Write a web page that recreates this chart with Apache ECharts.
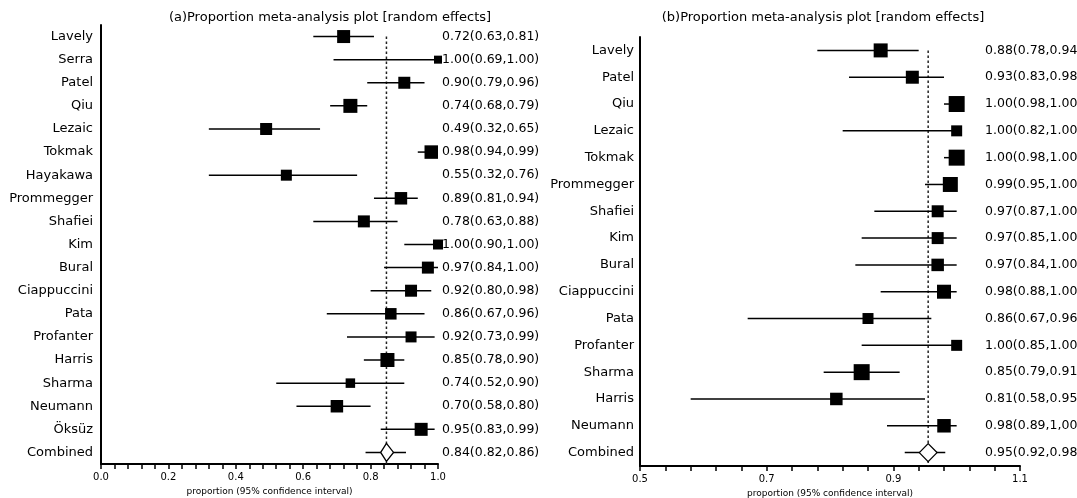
<!DOCTYPE html>
<html>
<head>
<meta charset="utf-8">
<script src="https://cdn.jsdelivr.net/npm/echarts@6/dist/echarts.min.js"></script>
<style>html,body{margin:0;padding:0;background:#fff}#c{width:1077px;height:498px}</style>
</head>
<body>
<div id="c"></div>
<script>
// ---------- Panel (a) data ----------
const namesA = ['Lavely','Serra','Patel','Qiu','Lezaic','Tokmak','Hayakawa','Prommegger','Shafiei','Kim','Bural','Ciappuccini','Pata','Profanter','Harris','Sharma','Neumann','Öksüz'];
const estA  = [0.72,1.00,0.90,0.74,0.49,0.98,0.55,0.89,0.78,1.00,0.97,0.92,0.86,0.92,0.85,0.74,0.70,0.95];
const lowA  = [0.63,0.69,0.79,0.68,0.32,0.94,0.32,0.81,0.63,0.90,0.84,0.80,0.67,0.73,0.78,0.52,0.58,0.83];
const highA = [0.81,1.00,0.96,0.79,0.65,0.99,0.76,0.94,0.88,1.00,1.00,0.98,0.96,0.99,0.90,0.90,0.80,0.99];
const weightA = [0.70,0.20,0.60,0.80,0.60,0.75,0.50,0.65,0.60,0.40,0.60,0.60,0.55,0.50,0.80,0.35,0.65,0.70];
const textA = ['0.72(0.63,0.81)','1.00(0.69,1.00)','0.90(0.79,0.96)','0.74(0.68,0.79)','0.49(0.32,0.65)','0.98(0.94,0.99)','0.55(0.32,0.76)','0.89(0.81,0.94)','0.78(0.63,0.88)','1.00(0.90,1.00)','0.97(0.84,1.00)','0.92(0.80,0.98)','0.86(0.67,0.96)','0.92(0.73,0.99)','0.85(0.78,0.90)','0.74(0.52,0.90)','0.70(0.58,0.80)','0.95(0.83,0.99)'];
const combinedA = { est: 0.847, low: 0.83, high: 0.868, predLow: 0.785, predHigh: 0.905, text: '0.84(0.82,0.86)' };
const ticksA = { min: 0.0, max: 1.0, step: 0.04, labelStep: 0.2 };

// ---------- Panel (b) data ----------
const namesB = ['Lavely','Patel','Qiu','Lezaic','Tokmak','Prommegger','Shafiei','Kim','Bural','Ciappuccini','Pata','Profanter','Sharma','Harris','Neumann'];
const estB  = [0.88,0.93,1.00,1.00,1.00,0.99,0.97,0.97,0.97,0.98,0.86,1.00,0.85,0.81,0.98];
const lowB  = [0.78,0.83,0.98,0.82,0.98,0.95,0.87,0.85,0.84,0.88,0.67,0.85,0.79,0.58,0.89];
const highB = [0.94,0.98,1.00,1.00,1.00,1.00,1.00,1.00,1.00,1.00,0.96,1.00,0.91,0.95,1.00];
const weightB = [0.80,0.70,1.00,0.50,1.00,0.90,0.60,0.60,0.65,0.80,0.50,0.50,1.00,0.65,0.75];
const textB = ['0.88(0.78,0.94)','0.93(0.83,0.98)','1.00(0.98,1.00)','1.00(0.82,1.00)','1.00(0.98,1.00)','0.99(0.95,1.00)','0.97(0.87,1.00)','0.97(0.85,1.00)','0.97(0.84,1.00)','0.98(0.88,1.00)','0.86(0.67,0.96)','1.00(0.85,1.00)','0.85(0.79,0.91)','0.81(0.58,0.95)','0.98(0.89,1,00)'];
const combinedB = { est: 0.955, low: 0.941, high: 0.969, predLow: 0.918, predHigh: 0.982, text: '0.95(0.92,0.98)' };
const ticksB = { min: 0.5, max: 1.1, step: 0.04, labelStep: 0.2 };

const titleA = '(a)Proportion meta-analysis plot [random effects]';
const titleB = '(b)Proportion meta-analysis plot [random effects]';
const xName = 'proportion (95% confidence interval)';

const FONT = 'DejaVu Sans';

function boxSize(w){ return 6 + 10 * w; }

function studySeries(gi, est, low, high, w){
  return {
    type: 'custom', xAxisIndex: gi, yAxisIndex: gi * 2,
    encode: { x: [1, 2, 3], y: 0 },
    data: est.map((e, i) => [i, e, low[i], high[i], w[i]]),
    renderItem: function(params, api){
      const r = api.value(0);
      const pE = api.coord([api.value(1), r]);
      const pL = api.coord([api.value(2), r]);
      const pH = api.coord([api.value(3), r]);
      const s = boxSize(api.value(4));
      return { type: 'group', children: [
        { type: 'line', shape: { x1: pL[0], y1: pL[1], x2: pH[0], y2: pH[1] }, style: { stroke: '#000', lineWidth: 1.5 } },
        { type: 'rect', shape: { x: pE[0] - s/2, y: pE[1] - s/2, width: s, height: s }, style: { fill: '#000' } }
      ]};
    },
    silent: true, z: 3
  };
}

function combinedSeries(gi, row, c){
  return {
    type: 'custom', xAxisIndex: gi, yAxisIndex: gi * 2,
    encode: { x: [1, 2, 3, 4, 5], y: 0 },
    data: [[row, c.est, c.low, c.high, c.predLow, c.predHigh]],
    renderItem: function(params, api){
      const r = api.value(0);
      const pE = api.coord([api.value(1), r]);
      const pL = api.coord([api.value(2), r]);
      const pH = api.coord([api.value(3), r]);
      const qL = api.coord([api.value(4), r]);
      const qH = api.coord([api.value(5), r]);
      const h = 9;
      return { type: 'group', children: [
        { type: 'line', shape: { x1: qL[0], y1: qL[1], x2: qH[0], y2: qH[1] }, style: { stroke: '#000', lineWidth: 1.5 } },
        { type: 'polygon', shape: { points: [[pL[0], pE[1]], [pE[0], pE[1] - h], [pH[0], pE[1]], [pE[0], pE[1] + h]] }, style: { fill: '#fff', stroke: '#000', lineWidth: 1.3 } }
      ]};
    },
    silent: true, z: 4
  };
}

function refSeries(gi, c){
  return {
    type: 'custom', xAxisIndex: gi, yAxisIndex: gi * 2,
    encode: { x: 1, y: 0 },
    data: [[0, c.est]],
    renderItem: function(params, api){
      const top = api.coord([api.value(1), 0]);
      const cs = params.coordSys;
      return { type: 'line', shape: { x1: top[0], y1: top[1], x2: top[0], y2: cs.y + cs.height }, style: { stroke: '#222', lineWidth: 1.5, lineDash: [2.5, 2.5] } };
    },
    silent: true, z: 2
  };
}

function xAxis(gi, t){
  return {
    type: 'value', gridIndex: gi, min: t.min, max: t.max, interval: t.step,
    axisLine: { show: true, onZero: false, lineStyle: { color: '#000', width: 2 } },
    axisTick: { show: true, length: 5, lineStyle: { color: '#000', width: 1.5 } },
    splitLine: { show: false },
    axisLabel: {
      color: '#000', fontSize: 10, fontFamily: FONT, margin: 8, showMinLabel: true, showMaxLabel: true,
      formatter: function(v){
        const k = (v - t.min) / t.labelStep;
        return Math.abs(k - Math.round(k)) < 1e-6 ? v.toFixed(1) : '';
      }
    },
    name: xName, nameLocation: 'middle', nameGap: 21,
    nameTextStyle: { color: '#000', fontSize: 9, fontFamily: FONT }
  };
}

function yNames(gi, names, margin){
  return {
    type: 'category', gridIndex: gi, inverse: true, data: names.concat(['Combined']),
    axisLine: { show: true, lineStyle: { color: '#000', width: 2 } },
    axisTick: { show: false }, splitLine: { show: false },
    axisLabel: { interval: 0, color: '#000', fontSize: 13, fontFamily: FONT, margin: margin }
  };
}
function yTexts(gi, texts, c, margin){
  return {
    type: 'category', gridIndex: gi, inverse: true, position: 'right', data: texts.concat([c.text]),
    axisLine: { show: false }, axisTick: { show: false }, splitLine: { show: false },
    axisLabel: { interval: 0, color: '#000', fontSize: 12.5, fontFamily: FONT, margin: margin, align: 'left' }
  };
}

const chart = echarts.init(document.getElementById('c'), null, { renderer: 'canvas' });
chart.setOption({
  animation: false,
  backgroundColor: '#fff',
  textStyle: { fontFamily: FONT },
  graphic: [
    { type: 'text', x: 330, y: 11, style: { text: titleA, fill: '#000', font: '13px "DejaVu Sans"', textAlign: 'center', textVerticalAlign: 'top' } },
    { type: 'text', x: 823, y: 11, style: { text: titleB, fill: '#000', font: '13px "DejaVu Sans"', textAlign: 'center', textVerticalAlign: 'top' } }
  ],
  grid: [
    { left: 101, right: 639, top: 25, bottom: 34, containLabel: false, outerBoundsMode: 'none' },
    { left: 640, right: 57, top: 37, bottom: 32, containLabel: false, outerBoundsMode: 'none' }
  ],
  xAxis: [ xAxis(0, ticksA), xAxis(1, ticksB) ],
  yAxis: [
    yNames(0, namesA, 8), yTexts(0, textA, combinedA, 4),
    yNames(1, namesB, 6), yTexts(1, textB, combinedB, -35)
  ],
  series: [
    refSeries(0, combinedA),
    studySeries(0, estA, lowA, highA, weightA),
    combinedSeries(0, namesA.length, combinedA),
    refSeries(1, combinedB),
    studySeries(1, estB, lowB, highB, weightB),
    combinedSeries(1, namesB.length, combinedB)
  ]
});
</script>
</body>
</html>
